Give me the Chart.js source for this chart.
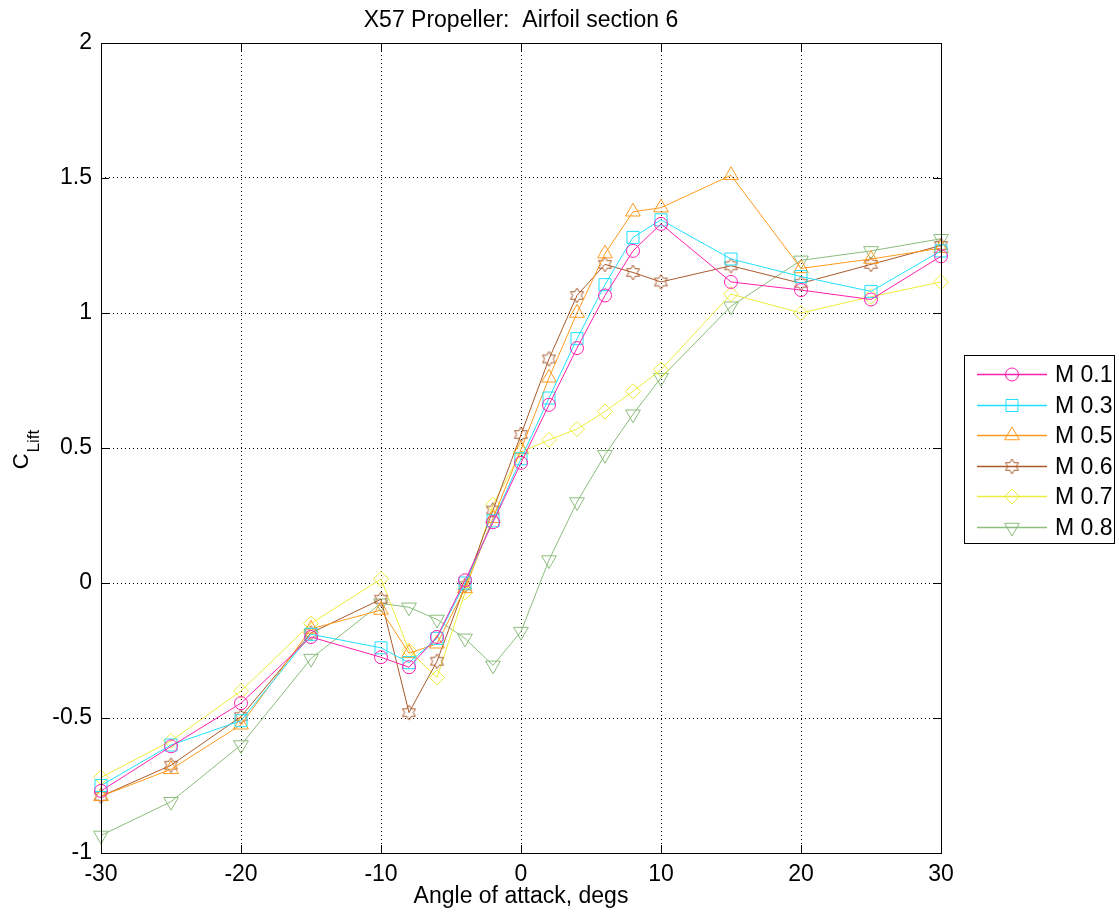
<!DOCTYPE html>
<html>
<head>
<meta charset="utf-8">
<title>X57 Propeller: Airfoil section 6</title>
<script src="https://cdn.jsdelivr.net/npm/chart.js@4.4.1/dist/chart.umd.min.js"></script>
<style>
  html, body { margin: 0; padding: 0; background: #fff; }
  #wrap { width: 1119px; height: 917px; }
</style>
</head>
<body>
<div id="wrap"><canvas id="myChart" width="1119" height="917"></canvas></div>
<script>
// angle of attack, degs
const aoa = [-30, -25, -20, -15, -10, -8, -6, -4, -2, 0, 2, 4, 6, 8, 10, 15, 20, 25, 30]

// lift coefficient per Mach number
const m01 = [-0.77, -0.605, -0.445, -0.20, -0.275, -0.312, -0.20, 0.01, 0.225, 0.445, 0.66, 0.87, 1.065, 1.23, 1.33, 1.115, 1.085, 1.05, 1.21]
const m03 = [-0.75, -0.60, -0.51, -0.19, -0.24, -0.295, -0.205, 0.0, 0.23, 0.46, 0.685, 0.905, 1.105, 1.28, 1.345, 1.20, 1.135, 1.08, 1.23]
const m05 = [-0.79, -0.69, -0.525, -0.17, -0.10, -0.26, -0.225, -0.02, 0.24, 0.495, 0.76, 1.0, 1.22, 1.375, 1.39, 1.51, 1.165, 1.20, 1.24]
const m06 = [-0.79, -0.675, -0.495, -0.185, -0.06, -0.48, -0.29, -0.01, 0.27, 0.55, 0.83, 1.065, 1.18, 1.15, 1.115, 1.175, 1.11, 1.18, 1.25]
const m07 = [-0.72, -0.585, -0.40, -0.15, 0.015, -0.25, -0.35, -0.035, 0.29, 0.485, 0.53, 0.57, 0.635, 0.71, 0.79, 1.07, 1.0, 1.06, 1.115]
const m08 = [-0.935, -0.81, -0.60, -0.28, -0.075, -0.09, -0.135, -0.205, -0.305, -0.18, 0.085, 0.30, 0.475, 0.625, 0.76, 1.025, 1.195, 1.23, 1.275]

const seriesNames = ['M 0.1', 'M 0.3', 'M 0.5', 'M 0.6', 'M 0.7', 'M 0.8']

const xTicks = [-30, -20, -10, 0, 10, 20, 30]
const yTicks = [-1, -0.5, 0, 0.5, 1, 1.5, 2]
const xTickLabels = ['-30', '-20', '-10', '0', '10', '20', '30']
const yTickLabels = ['-1', '-0.5', '0', '0.5', '1', '1.5', '2']

const FONT = '"Liberation Sans", Arial, sans-serif'
const FS = 23

// six pointed star like matlab's hexagram marker
function makeHexagram(color) {
    const c = document.createElement('canvas')
    c.width = 17
    c.height = 17
    const g = c.getContext('2d')
    g.strokeStyle = color
    g.lineWidth = 1
    g.beginPath()
    for (let i = 0; i < 12; i++) {
        const r = i % 2 === 0 ? 7.5 : 4.3
        const a = -Math.PI / 2 + i * Math.PI / 6
        const px = 8.5 + r * Math.cos(a)
        const py = 8.5 + r * Math.sin(a)
        if (i === 0) g.moveTo(px, py)
        else g.lineTo(px, py)
    }
    g.closePath()
    g.stroke()
    return c
}

const colors = ['#ff1fae', '#1fe0ff', '#ff9a1f', '#a85a2c', '#ecec3c', '#8cbd7c']
const styles = [
    { pointStyle: 'circle', radius: 6.5, rotation: 0 },
    { pointStyle: 'rect', radius: 8.5, rotation: 0 },
    { pointStyle: 'triangle', radius: 8.5, rotation: 0 },
    { pointStyle: makeHexagram(colors[3]), radius: 7, rotation: 0 },
    { pointStyle: 'rectRot', radius: 7.5, rotation: 0 },
    { pointStyle: 'triangle', radius: 8.5, rotation: 180 }
]

const allSeries = [m01, m03, m05, m06, m07, m08]

const datasets = allSeries.map((vals, i) => ({
    label: seriesNames[i],
    data: vals.map((v, j) => ({ x: aoa[j], y: v })),
    borderColor: colors[i],
    backgroundColor: 'rgba(0,0,0,0)',
    borderWidth: 1,
    pointBorderColor: colors[i],
    pointBackgroundColor: 'rgba(0,0,0,0)',
    pointBorderWidth: 1,
    pointStyle: styles[i].pointStyle,
    pointRadius: styles[i].radius,
    pointRotation: styles[i].rotation,
    tension: 0,
    clip: false
}))

// matlab style decorations: box, inward ticks, labels, legend
const matlabAxes = {
    id: 'matlabAxes',
    afterDraw(chart) {
        const ctx = chart.ctx
        const area = chart.chartArea
        const xs = chart.scales.x
        const ys = chart.scales.y
        ctx.save()

        ctx.strokeStyle = '#000'
        ctx.lineWidth = 1
        ctx.setLineDash([])
        ctx.strokeRect(Math.round(area.left) + 0.5, Math.round(area.top) + 0.5,
            Math.round(area.right - area.left), Math.round(area.bottom - area.top))

        const tl = 8
        ctx.beginPath()
        xTicks.forEach(t => {
            const px = Math.round(xs.getPixelForValue(t)) + 0.5
            ctx.moveTo(px, area.bottom)
            ctx.lineTo(px, area.bottom - tl)
            ctx.moveTo(px, area.top)
            ctx.lineTo(px, area.top + tl)
        })
        yTicks.forEach(t => {
            const py = Math.round(ys.getPixelForValue(t)) + 0.5
            ctx.moveTo(area.left, py)
            ctx.lineTo(area.left + tl, py)
            ctx.moveTo(area.right, py)
            ctx.lineTo(area.right - tl, py)
        })
        ctx.stroke()

        ctx.fillStyle = '#000'
        ctx.textAlign = 'center'
        ctx.textBaseline = 'middle'
        ctx.font = FS + 'px ' + FONT
        ctx.fillText('X57 Propeller:  Airfoil section 6', (area.left + area.right) / 2, 21)
        ctx.fillText('Angle of attack, degs', (area.left + area.right) / 2, 897)

        // y label: C with subscript Lift
        ctx.save()
        ctx.translate(28, 450)
        ctx.rotate(-Math.PI / 2)
        ctx.textAlign = 'left'
        ctx.textBaseline = 'alphabetic'
        ctx.font = '22px ' + FONT
        const wC = ctx.measureText('C').width
        ctx.font = '17px ' + FONT
        const wL = ctx.measureText('Lift').width
        const x0 = -(wC + wL) / 2
        ctx.font = '22px ' + FONT
        ctx.fillText('C', x0, 0)
        ctx.font = '17px ' + FONT
        ctx.fillText('Lift', x0 + wC + 1, 11)
        ctx.restore()

        // legend
        const lx = 964.5, ly = 355.5, lw = 150, lh = 188
        ctx.fillStyle = '#fff'
        ctx.fillRect(lx, ly, lw, lh)
        ctx.strokeStyle = '#000'
        ctx.lineWidth = 1
        ctx.strokeRect(lx, ly, lw, lh)
        seriesNames.forEach((name, i) => {
            const y = Math.round(374 + i * 30.6) + 0.5
            ctx.strokeStyle = colors[i]
            ctx.lineWidth = 1.5
            ctx.beginPath()
            ctx.moveTo(977, y)
            ctx.lineTo(1047, y)
            ctx.stroke()
            ctx.lineWidth = 1
            ctx.fillStyle = 'rgba(0,0,0,0)'
            ctx.strokeStyle = colors[i]
            Chart.helpers.drawPoint(ctx, {
                pointStyle: styles[i].pointStyle,
                rotation: styles[i].rotation,
                radius: styles[i].radius,
                borderWidth: 1
            }, 1012, y)
            ctx.fillStyle = '#000'
            ctx.font = FS + 'px ' + FONT
            ctx.textAlign = 'left'
            ctx.textBaseline = 'middle'
            ctx.fillText(name, 1055, y + 1)
        })

        ctx.restore()
    }
}

new Chart(document.getElementById('myChart'), {
    type: 'line',
    data: { datasets: datasets },
    options: {
        responsive: false,
        animation: false,
        layout: { padding: { left: 0, right: 178, top: 43, bottom: 0 } },
        plugins: {
            legend: { display: false },
            title: { display: false },
            tooltip: { enabled: false }
        },
        scales: {
            x: {
                type: 'linear',
                min: -30,
                max: 30,
                afterBuildTicks: s => { s.ticks = xTicks.map(v => ({ value: v })) },
                afterFit: s => { s.height = 64 },
                ticks: {
                    color: '#000',
                    font: { family: FONT, size: FS },
                    padding: 8,
                    maxRotation: 0,
                    autoSkip: false,
                    callback: v => xTickLabels[xTicks.indexOf(v)]
                },
                grid: { color: '#000', lineWidth: 1, drawTicks: false },
                border: { display: false, dash: [1, 3] }
            },
            y: {
                type: 'linear',
                min: -1,
                max: 2,
                afterBuildTicks: s => { s.ticks = yTicks.map(v => ({ value: v })) },
                afterFit: s => { s.width = 101 },
                ticks: {
                    color: '#000',
                    font: { family: FONT, size: FS },
                    padding: 9,
                    autoSkip: false,
                    callback: v => yTickLabels[yTicks.indexOf(v)]
                },
                grid: { color: '#000', lineWidth: 1, drawTicks: false },
                border: { display: false, dash: [1, 3] }
            }
        }
    },
    plugins: [matlabAxes]
})
</script>
</body>
</html>
